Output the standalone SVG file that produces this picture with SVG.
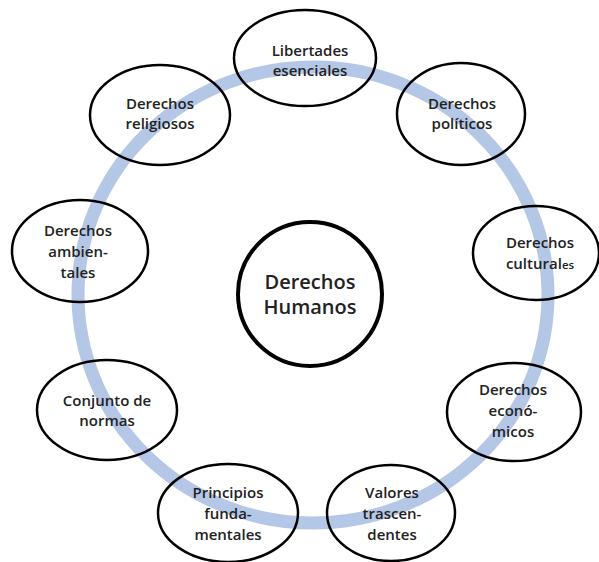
<svg xmlns="http://www.w3.org/2000/svg" width="599" height="562" viewBox="0 0 599 562">
<style>
.ring{fill:none;stroke:#b4c7e7;stroke-width:13}
.node ellipse{fill:none;stroke:#000;stroke-width:2.5}
.hub circle{fill:#fff;stroke:#000;stroke-width:4}
text{font-family:"Open Sans","Liberation Sans",sans-serif;font-size:15px;font-weight:600;fill:#222;text-anchor:middle}
.big{font-size:20px}
</style>
<rect width="599" height="562" fill="#fff"/>
<g id="connectors">
<ellipse class="ring" cx="313" cy="295" rx="235" ry="228"/>
</g>
<g id="hub" class="hub">
<circle cx="310" cy="294" r="72"/>
<text class="big" x="310" y="289">Derechos</text>
<text class="big" x="310" y="314">Humanos</text>
</g>
<g id="libertades" class="node">
<ellipse cx="305" cy="58" rx="71" ry="48"/>
<text x="310" y="56">Libertades</text>
<text x="310" y="76">esenciales</text>
</g>
<g id="politicos" class="node">
<ellipse cx="461" cy="114" rx="64" ry="51"/>
<text x="462" y="109">Derechos</text>
<text x="462" y="129">políticos</text>
</g>
<g id="religiosos" class="node">
<ellipse cx="160" cy="115" rx="70" ry="50"/>
<text x="160" y="109">Derechos</text>
<text x="160" y="129">religiosos</text>
</g>
<g id="ambientales" class="node">
<ellipse cx="80" cy="251" rx="68" ry="51"/>
<text x="78" y="236">Derechos</text>
<text x="78" y="257">ambien-</text>
<text x="78" y="278">tales</text>
</g>
<g id="culturales" class="node">
<ellipse cx="536" cy="253" rx="63" ry="47"/>
<text x="540" y="248">Derechos</text>
<text x="540" y="269">cultural<tspan font-size="11.5px">es</tspan></text>
</g>
<g id="normas" class="node">
<ellipse cx="107" cy="410" rx="70" ry="50"/>
<text x="107" y="406">Conjunto de</text>
<text x="107" y="426">normas</text>
</g>
<g id="economicos" class="node">
<ellipse cx="514" cy="412" rx="67" ry="49"/>
<text x="513" y="395">Derechos</text>
<text x="513" y="416">econó-</text>
<text x="513" y="437">micos</text>
</g>
<g id="principios" class="node">
<ellipse cx="228" cy="513" rx="70" ry="49"/>
<text x="228" y="498">Principios</text>
<text x="228" y="519">funda-</text>
<text x="228" y="540">mentales</text>
</g>
<g id="valores" class="node">
<ellipse cx="391" cy="513" rx="64" ry="48"/>
<text x="392" y="498">Valores</text>
<text x="392" y="519">trascen-</text>
<text x="392" y="540">dentes</text>
</g>
</svg>
